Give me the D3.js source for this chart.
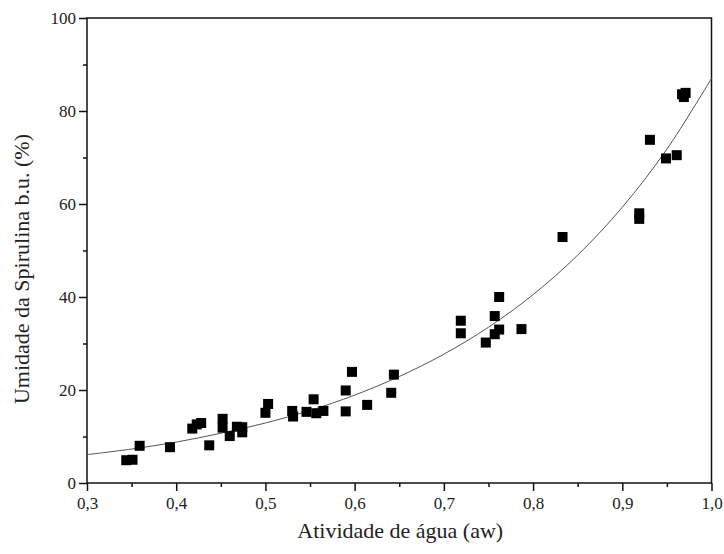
<!DOCTYPE html>
<html>
<head>
<meta charset="utf-8">
<script src="https://cdn.jsdelivr.net/npm/d3@7/dist/d3.min.js"></script>
<style>
  html, body { margin: 0; padding: 0; background: #fff; }
  svg { display: block; }
  text { font-family: "Liberation Serif", "Times New Roman", serif; fill: #222; }
</style>
</head>
<body>
<svg id="chart" width="724" height="554"></svg>
<script>
// Measured moisture (% wet basis) against water activity
const aw = [0.344, 0.351, 0.359, 0.393, 0.418, 0.423, 0.428, 0.437, 0.452, 0.452,
            0.460, 0.468, 0.474, 0.474, 0.500, 0.503, 0.530, 0.531, 0.546, 0.554,
            0.557, 0.565, 0.590, 0.590, 0.597, 0.614, 0.641, 0.644, 0.719, 0.719,
            0.747, 0.757, 0.757, 0.762, 0.762, 0.787, 0.833, 0.919, 0.919, 0.931,
            0.949, 0.961, 0.967, 0.971, 0.969];
const moisture = [4.9, 5.0, 8.0, 7.7, 11.7, 12.6, 12.9, 8.1, 13.8, 11.9,
                  10.1, 12.1, 12.0, 10.9, 15.1, 17.0, 15.5, 14.3, 15.3, 18.0,
                  15.0, 15.5, 19.9, 15.4, 23.9, 16.8, 19.4, 23.3, 34.9, 32.2,
                  30.2, 35.9, 32.0, 40.0, 33.0, 33.1, 52.9, 58.0, 56.8, 73.8,
                  69.8, 70.5, 83.6, 83.9, 83.0];

// Fitted isotherm, sampled along water activity
const fitAw = [0.30, 0.35, 0.40, 0.45, 0.50, 0.55, 0.60, 0.65, 0.70, 0.75,
               0.80, 0.85, 0.90, 0.95, 1.00];
const fitMoisture = [6.1, 7.3, 8.8, 10.7, 12.9, 15.6, 18.9, 22.9, 27.7, 33.5,
                     40.5, 49.0, 59.3, 71.8, 87.0];

const xTicks = [0.3, 0.4, 0.5, 0.6, 0.7, 0.8, 0.9, 1.0];
const xMinorTicks = [0.35, 0.45, 0.55, 0.65, 0.75, 0.85, 0.95];
const yTicks = [0, 20, 40, 60, 80, 100];
const yMinorTicks = [10, 30, 50, 70, 90];

const xTitle = "Atividade de água (aw)";
const yTitle = "Umidade da Spirulina b.u. (%)";

const margin = { left: 87, right: 12.5, top: 18, bottom: 71 };
const W = 724, H = 554;
const svg = d3.select("#chart");

const x = d3.scaleLinear().domain([0.3, 1.0]).range([margin.left, W - margin.right]);
const y = d3.scaleLinear().domain([0, 100]).range([H - margin.bottom, margin.top]);

const fmt = d => d3.format(".1f")(d).replace(".", ",");

// frame
svg.append("rect")
  .attr("x", x(0.3)).attr("y", y(100))
  .attr("width", x(1.0) - x(0.3)).attr("height", y(0) - y(100))
  .attr("fill", "none").attr("stroke", "#111").attr("stroke-width", 1.5);

// x axis
const gx = svg.append("g").attr("transform", `translate(0,${y(0)})`);
gx.call(d3.axisBottom(x).tickValues(xTicks).tickFormat(fmt).tickSize(8).tickPadding(6));
gx.append("g").call(d3.axisBottom(x).tickValues(xMinorTicks).tickFormat("").tickSize(4));
gx.selectAll(".domain").remove();
gx.selectAll("line").attr("stroke", "#111").attr("stroke-width", 1.5);
gx.selectAll("text").attr("font-size", 17).attr("fill", "#222")
  .attr("font-family", '"Liberation Serif", serif');

// y axis
const gy = svg.append("g").attr("transform", `translate(${x(0.3)},0)`);
gy.call(d3.axisLeft(y).tickValues(yTicks).tickSize(8).tickPadding(3));
gy.append("g").call(d3.axisLeft(y).tickValues(yMinorTicks).tickFormat("").tickSize(4));
gy.selectAll(".domain").remove();
gy.selectAll("line").attr("stroke", "#111").attr("stroke-width", 1.5);
gy.selectAll("text").attr("font-size", 17).attr("fill", "#222")
  .attr("font-family", '"Liberation Serif", serif');

// axis titles
svg.append("text")
  .attr("x", (x(0.3) + x(1.0)) / 2 + 1).attr("y", 538)
  .attr("text-anchor", "middle").attr("font-size", 22)
  .text(xTitle);
svg.append("text")
  .attr("transform", `translate(29,269) rotate(-90)`)
  .attr("text-anchor", "middle").attr("font-size", 22)
  .text(yTitle);

// fitted curve
const line = d3.line()
  .x((d, i) => x(fitAw[i]))
  .y(d => y(d))
  .curve(d3.curveCatmullRom);
svg.append("path")
  .datum(fitMoisture)
  .attr("d", line)
  .attr("fill", "none").attr("stroke", "#555").attr("stroke-width", 1);

// data markers
const s = 10;
svg.append("g").selectAll("rect")
  .data(aw)
  .join("rect")
  .attr("x", (d) => x(d) - s / 2)
  .attr("y", (d, i) => y(moisture[i]) - s / 2)
  .attr("width", s).attr("height", s)
  .attr("fill", "#000");
</script>
</body>
</html>
